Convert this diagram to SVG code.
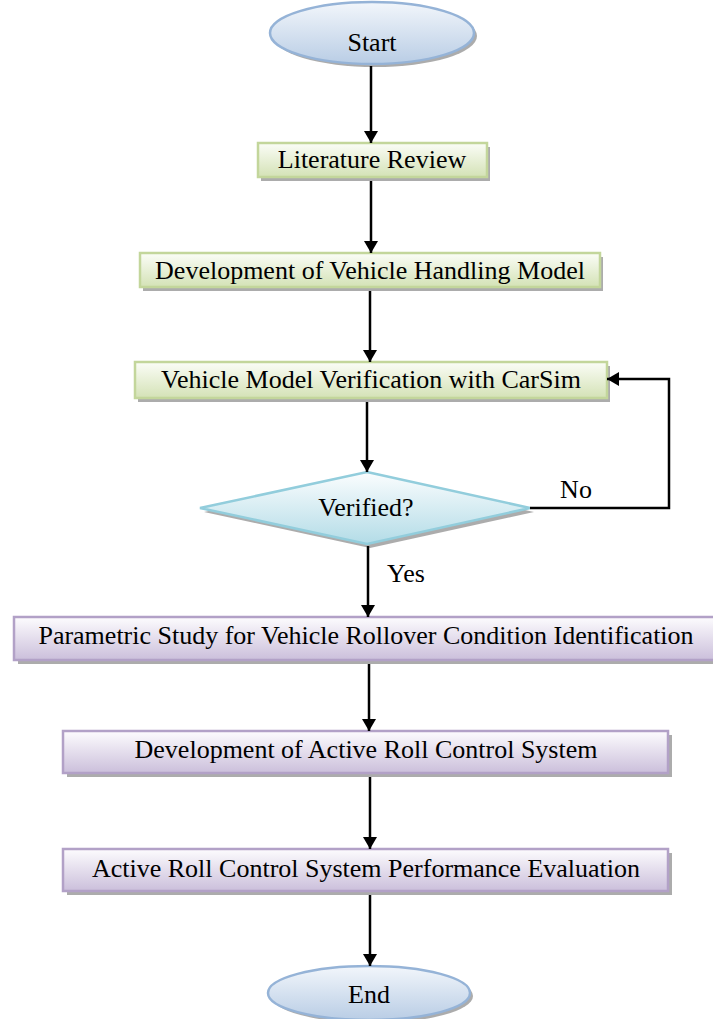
<svg xmlns="http://www.w3.org/2000/svg" width="713" height="1019" viewBox="0 0 713 1019">
  <defs>
    <linearGradient id="gBlue" x1="0" y1="0" x2="0" y2="1">
      <stop offset="0" stop-color="#f2f6fb"/>
      <stop offset="1" stop-color="#b9cde5"/>
    </linearGradient>
    <linearGradient id="gGreen" x1="0" y1="0" x2="0" y2="1">
      <stop offset="0" stop-color="#fbfdf7"/>
      <stop offset="1" stop-color="#d4e2b6"/>
    </linearGradient>
    <linearGradient id="gCyan" x1="0" y1="0" x2="0" y2="1">
      <stop offset="0" stop-color="#fbfdfe"/>
      <stop offset="1" stop-color="#b3dce7"/>
    </linearGradient>
    <linearGradient id="gPurple" x1="0" y1="0" x2="0" y2="1">
      <stop offset="0" stop-color="#fdfcfe"/>
      <stop offset="1" stop-color="#cbbfdb"/>
    </linearGradient>
    <marker id="arrow" viewBox="0 0 12 14" refX="12" refY="7" markerWidth="12" markerHeight="14" markerUnits="userSpaceOnUse" orient="auto">
      <path d="M0,0 L12,7 L0,14 Z" fill="#000"/>
    </marker>
  </defs>
  <style>
    text { font-family: "Liberation Serif", "Times New Roman", serif; font-size: 26px; fill: #000; text-anchor: middle; }
    .shadow { fill: #9e9e9e; opacity: 0.85; }
    .ellipse { fill: url(#gBlue); stroke: #95b3d7; stroke-width: 2.5; }
    .green { fill: url(#gGreen); stroke: #c3d69b; stroke-width: 2.5; }
    .diamond { fill: url(#gCyan); stroke: #92cddc; stroke-width: 2.5; }
    .purple { fill: url(#gPurple); stroke: #b2a1c7; stroke-width: 2.5; }
    .conn { fill: none; stroke: #000; stroke-width: 2.5; marker-end: url(#arrow); }
  </style>

  <g id="start">
    <ellipse class="shadow" cx="375" cy="36" rx="102" ry="31"/>
    <ellipse class="ellipse" cx="372" cy="33" rx="102" ry="31"/>
    <text x="372" y="51">Start</text>
  </g>

  <g id="literature-review">
    <rect class="shadow" x="261" y="147" width="229" height="34"/>
    <rect class="green" x="258" y="143" width="229" height="34"/>
    <text x="372" y="168">Literature Review</text>
  </g>

  <g id="handling-model">
    <rect class="shadow" x="143" y="257" width="460" height="34"/>
    <rect class="green" x="140" y="253" width="460" height="34"/>
    <text x="370" y="279">Development of Vehicle Handling Model</text>
  </g>

  <g id="model-verification">
    <rect class="shadow" x="138" y="366" width="472" height="36"/>
    <rect class="green" x="135" y="362" width="472" height="36"/>
    <text x="371" y="388">Vehicle Model Verification with CarSim</text>
  </g>

  <g id="verified">
    <polygon class="shadow" points="370,476 534,512 370,548 204,512"/>
    <polygon class="diamond" points="367,472 530,508 367,544 200,508"/>
    <text x="366" y="516">Verified?</text>
  </g>

  <g id="parametric-study">
    <rect class="shadow" x="18" y="621" width="702" height="43"/>
    <rect class="purple" x="14" y="617" width="702" height="43"/>
    <text x="366" y="644">Parametric Study for Vehicle Rollover Condition Identification</text>
  </g>

  <g id="arc-development">
    <rect class="shadow" x="67" y="735" width="605" height="42"/>
    <rect class="purple" x="63" y="731" width="605" height="42"/>
    <text x="366" y="758">Development of Active Roll Control System</text>
  </g>

  <g id="arc-evaluation">
    <rect class="shadow" x="67" y="853" width="605" height="42"/>
    <rect class="purple" x="63" y="849" width="605" height="42"/>
    <text x="366" y="877">Active Roll Control System Performance Evaluation</text>
  </g>

  <g id="end">
    <ellipse class="shadow" cx="372" cy="996" rx="101" ry="27"/>
    <ellipse class="ellipse" cx="369" cy="993" rx="101" ry="27"/>
    <text x="369" y="1003">End</text>
  </g>

  <g id="connectors">
    <line class="conn" x1="371" y1="66" x2="371" y2="143"/>
    <line class="conn" x1="371" y1="181" x2="371" y2="253"/>
    <line class="conn" x1="370" y1="291" x2="370" y2="362"/>
    <line class="conn" x1="367" y1="402" x2="367" y2="472"/>
    <polyline class="conn" points="530,508 669,508 669,379 607,379"/>
    <line class="conn" x1="368" y1="546" x2="368" y2="617"/>
    <line class="conn" x1="369" y1="664" x2="369" y2="731"/>
    <line class="conn" x1="370" y1="777" x2="370" y2="849"/>
    <line class="conn" x1="370" y1="895" x2="370" y2="966"/>
    <text x="576" y="498">No</text>
    <text x="406" y="582">Yes</text>
  </g>
</svg>
